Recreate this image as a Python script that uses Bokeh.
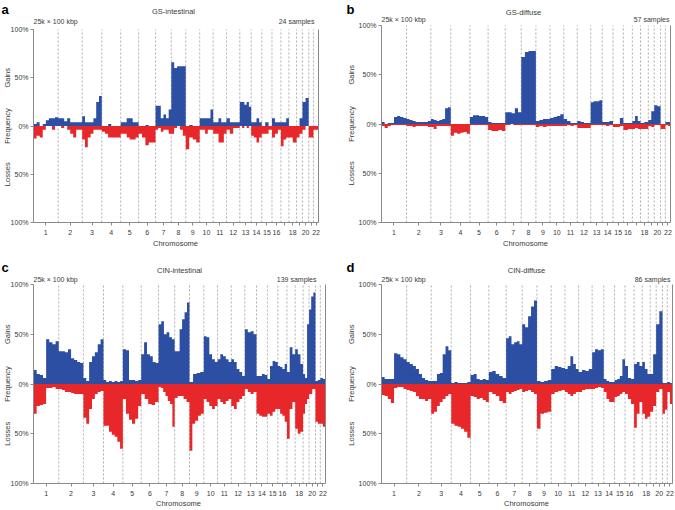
import numpy as np
from bokeh.plotting import figure
from bokeh.models import Range1d, FixedTicker, LinearAxis
from bokeh.layouts import column, row
from bokeh.core.properties import value
from bokeh.embed import file_html
from bokeh.resources import INLINE

# ---------------- data ----------------
chrom_len = [249, 243, 198, 191, 181, 171, 159, 146, 141, 136, 135, 134,
             115, 107, 103, 90, 81, 78, 59, 63, 48, 51]   # Mb
chrom_tick_labels = ["1", "2", "3", "4", "5", "6", "7", "8", "9", "10", "11",
                     "12", "13", "14", "15", "16", "", "18", "", "20", "", "22"]
y_ticks = [-100, -50, 0, 50, 100]
y_tick_labels = ["100%", "50%", "0%", "50%", "100%"]

titles = ["GS-intestinal", "GS-diffuse", "CIN-intestinal", "CIN-diffuse"]
samples = ["24 samples", "57 samples", "139 samples", "86 samples"]
letters = ["a", "b", "c", "d"]
resolution = "25k \u00d7 100 kbp"

# gains / losses (%) per chromosome, equal-width segments within each chromosome
a_gain = [[2, 4, 0, 2, 6, 8, 8, 9], [8, 8, 5, 8, 4, 4, 4, 4], [10, 4, 4, 4, 8, 25, 31],
          [0, 0, 2, 0, 0, 0], [4, 4, 8, 8, 4, 4], [0, 0, 1, 0, 0], [21, 21, 8, 12, 8, 17],
          [66, 60, 62, 62, 62], [0, 1, 0, 0], [8, 8, 8, 8, 17], [4, 4, 8, 4, 4], [8, 4, 4, 4],
          [25, 25, 22, 25, 20], [4, 4, 8, 4], [0, 4, 0], [8, 4, 4], [4, 4, 8], [0, 0],
          [0, 8], [25, 29], [0, 0], [0, 0]]
a_loss = [[13, 10, 12, 4, 0, 0, 4, 0], [0, 2, 0, 4, 8, 12, 4, 4], [14, 22, 12, 8, 4, 4, 4],
          [6, 8, 12, 12, 12, 12], [8, 8, 12, 14, 14, 12], [8, 12, 20, 17, 17], [4, 2, 6, 4, 4, 8],
          [8, 2, 0, 4, 10], [24, 12, 14, 17], [4, 4, 8, 4, 4], [8, 8, 17, 17, 8], [4, 8, 2, 2],
          [0, 2, 0, 2, 0], [10, 12, 17, 12], [8, 8, 4], [12, 8, 4], [21, 14, 12], [12, 17],
          [12, 8], [4, 0], [12, 12], [4, 4]]

b_gain = [[2, 0, 1, 1, 7, 8, 7, 6], [5, 4, 3, 2, 2, 2, 2, 3], [5, 4, 3, 4, 5, 16, 17],
          [0, 0, 0, 0, 0, 0], [7, 9, 9, 8, 8, 7], [2, 1, 1, 1, 1], [12, 12, 11, 16, 12],
          [68, 73, 74, 74], [3, 4, 5, 5], [6, 7, 8, 10], [5, 3, 1, 1], [3, 2, 1, 1],
          [22, 23, 23, 24], [2, 2, 3], [0, 0, 6], [1, 1], [3, 8, 3], [1, 2], [4, 13],
          [19, 18], [0, 0], [2, 2]]
b_loss = [[2, 4, 2, 1, 1, 1, 1, 1], [2, 2, 3, 2, 2, 2, 2, 3], [3, 5, 2, 2, 2, 2, 2],
          [12, 9, 10, 9, 8, 10], [1, 1, 1, 1, 1, 1], [6, 7, 7, 6, 7], [1, 1, 0, 1, 1, 1],
          [1, 1, 1, 1], [3, 2, 3, 2], [2, 2, 2, 2], [2, 1, 2, 1], [4, 4, 4, 4], [1, 1, 1, 1],
          [1, 2, 1], [3, 3, 2], [6, 5], [5, 4, 5], [5, 5], [2, 3], [1, 1], [5, 5], [1, 2]]

c_gain = [[14, 10, 9, 6, 45, 42, 40, 43], [33, 33, 32, 35, 26, 24, 22, 21],
          [6, 3, 22, 28, 32, 40, 45], [4, 2, 3, 2, 3, 2, 3], [35, 34, 4, 4, 3, 4],
          [30, 42, 30, 28, 22, 21], [60, 63, 50, 52, 47, 45], [33, 33, 55, 65, 72, 82],
          [2, 10, 11, 12], [48, 47, 30, 25, 22], [25, 30, 28, 25, 22], [25, 22, 15, 12, 8],
          [55, 52, 53, 50], [8, 8, 10, 9], [5, 18, 23, 22], [18, 17, 15, 20], [12, 37, 30],
          [35, 30, 20], [10, 6, 60], [75, 88, 92], [3, 4], [6, 5]]
c_loss = [[30, 22, 21, 20, 4, 4, 3, 5], [5, 6, 8, 8, 9, 10, 10, 10], [34, 40, 25, 15, 10, 8, 7],
          [42, 42, 48, 51, 53, 58, 65], [15, 30, 36, 40, 35, 22], [10, 15, 20, 21, 18],
          [3, 4, 8, 12, 17, 20, 43], [14, 12, 12, 15, 18], [67, 40, 37, 32, 30],
          [15, 18, 22, 25, 22], [15, 18, 20, 17, 15], [22, 25, 18, 15, 12], [5, 8, 10, 8],
          [30, 32, 33, 33], [30, 32, 28, 25], [25, 30, 32, 38], [55, 25, 18], [45, 50, 48],
          [30, 20, 15], [10, 5], [38, 40], [40, 43]]

d_gain = [[7, 5, 5, 5, 31, 30, 27, 25], [22, 20, 18, 15, 10, 6, 4, 3], [3, 3, 10, 11, 30, 38, 34],
          [1, 2, 1, 1, 1, 2], [9, 10, 5, 4, 5, 4], [12, 13, 10, 8, 6], [46, 48, 40, 42, 43, 40],
          [60, 57, 68, 78, 84], [3, 2, 3, 4], [15, 18, 17, 16], [15, 18, 28, 20, 15],
          [12, 14, 13, 15], [32, 35, 34, 35], [5, 3, 2, 2], [4, 5, 8, 25], [18, 6, 5],
          [20, 22, 18], [22, 15, 10], [10, 30], [60, 73], [1, 1], [2, 1]]
d_loss = [[11, 12, 15, 19, 4, 3, 3, 5], [6, 7, 8, 12, 15, 15, 17, 15], [30, 28, 22, 18, 15, 12, 10],
          [40, 42, 43, 45, 48, 54], [12, 13, 15, 14, 16, 18], [8, 10, 12, 17, 19],
          [8, 10, 8, 7, 6, 5], [8, 7, 6, 8, 10], [45, 30, 29, 28], [10, 8, 7, 6],
          [8, 10, 12, 10, 8], [8, 6, 5, 5], [5, 4, 3, 4], [8, 15, 18, 18], [13, 12, 10, 8],
          [10, 15, 20], [44, 30, 18], [30, 35, 33], [28, 22], [8, 5], [30, 26], [8, 20]]

# ---------------- styling ----------------
BLUE = "#2c4ea3"
RED = "#e8272b"
FONT = "Liberation Sans"
GREY = "#8a8a8a"
TXT = "#3a3a3a"

cum = np.concatenate([[0], np.cumsum(chrom_len)])
TOTAL = float(cum[-1])
mids = [int(round(cum[i] + chrom_len[i] / 2)) for i in range(len(chrom_len))]


def steps(vals_by_chrom, sign):
    xs, ys = [], []
    for i, vals in enumerate(vals_by_chrom):
        n = len(vals)
        L = chrom_len[i]
        for j, v in enumerate(vals):
            xs += [cum[i] + j * L / n, cum[i] + (j + 1) * L / n]
            ys += [sign * v, sign * v]
    return xs, ys


def panel(k, gain, loss, fig_box, frame, txt):
    X0, Y0, W, H = fig_box
    fl, ft, fw, fh = frame

    def dx(X):
        return (X - fl) / fw * TOTAL

    def dy(Y):
        return 100 - (Y - ft) / fh * 200

    p = figure(width=W, height=H, output_backend="svg", toolbar_location=None,
               title=None, x_axis_location=None, y_axis_location=None,
               x_range=Range1d(dx(X0), dx(X0 + W)), y_range=Range1d(dy(Y0 + H), dy(Y0)),
               min_border=0)
    p.min_border_left = 0
    p.min_border_right = 0
    p.min_border_top = 0
    p.min_border_bottom = 0
    p.outline_line_color = None
    p.background_fill_color = "white"
    p.border_fill_color = "white"
    for g in p.grid:
        g.visible = False

    # chromosome boundaries
    bnd = list(cum[1:-1])
    p.segment(x0=bnd, y0=[-100] * len(bnd), x1=bnd, y1=[100] * len(bnd),
              line_color=GREY, line_width=0.7, line_dash="2 2")

    gx, gy = steps(gain, 1)
    lx, ly = steps(loss, -1)
    p.varea(x=gx, y1=0, y2=gy, fill_color=BLUE)
    p.varea(x=lx, y1=0, y2=ly, fill_color=RED)

    # right edge
    p.segment(x0=[TOTAL], y0=[-100], x1=[TOTAL], y1=[100], line_color=GREY, line_width=1)

    yax = LinearAxis(fixed_location=0, bounds=(-100, 100), ticker=FixedTicker(ticks=y_ticks))
    yax.major_label_overrides = {t: lab for t, lab in zip(y_ticks, y_tick_labels)}
    xax = LinearAxis(fixed_location=-100, bounds=(0, TOTAL), ticker=FixedTicker(ticks=mids))
    xax.major_label_overrides = {m: lab for m, lab in zip(mids, chrom_tick_labels)}
    for ax in (xax, yax):
        ax.axis_line_color = GREY
        ax.major_tick_line_color = GREY
        ax.minor_tick_line_color = None
        ax.major_tick_out = 3
        ax.major_tick_in = 0
        ax.major_label_text_font = FONT
        ax.major_label_text_font_size = "7px"
        ax.major_label_text_color = TXT
    yax.major_label_standoff = 2
    xax.major_label_standoff = 4
    p.add_layout(yax, "left")
    p.add_layout(xax, "below")

    def lab(X, Y, text, size="7px", align="left", bold=False, angle=0.0, color=TXT):
        p.text(x=[dx(X)], y=[dy(Y)], text=[text], text_font=value(FONT),
               text_font_size=value(size), text_align=align, text_baseline="middle",
               text_color=color, angle=angle,
               text_font_style="bold" if bold else "normal")

    lab(txt["letter"][0], txt["letter"][1], letters[k], size="13px", bold=True, color="black")
    lab(txt["title"][0], txt["title"][1], titles[k], size="7.5px", align="center")
    lab(fl, txt["sub_y"], resolution, size="7px")
    lab(txt["right_x"], txt["sub_y"], samples[k], size="7px", align="right")
    lab(txt["chrom"][0], txt["chrom"][1], "Chromosome", size="7.5px", align="center")
    gxp = txt["gains_x"]
    for text, val in (("Gains", 50), ("Frequency", 0), ("Losses", -50)):
        Y = ft + (100 - val) / 200 * fh
        lab(gxp, Y, text, size="7.5px", align="center", angle=np.pi / 2)
    return p


pa = panel(0, a_gain, a_loss, (0, 0, 343, 255), (33, 29, 285, 193),
           dict(letter=(1, 8.5), title=(173, 11), sub_y=20.5, right_x=314,
                gains_x=7, chrom=(175, 242.5)))
pb = panel(1, b_gain, b_loss, (343, 0, 331, 255), (381, 25, 289, 197),
           dict(letter=(346, 8.5), title=(523, 11.7), sub_y=19, right_x=669,
                gains_x=351, chrom=(525, 242.5)))
pc = panel(2, c_gain, c_loss, (0, 255, 343, 254), (33, 284, 292, 199),
           dict(letter=(1, 266.5), title=(179, 270), sub_y=279, right_x=316,
                gains_x=7, chrom=(178, 503)))
pd = panel(3, d_gain, d_loss, (343, 255, 331, 254), (381, 284, 291, 199),
           dict(letter=(346, 266.5), title=(526, 270), sub_y=279, right_x=670,
                gains_x=351, chrom=(526, 503)))

layout = column(row(pa, pb, spacing=0), row(pc, pd, spacing=0), spacing=0)
open("out.html", "w").write(file_html(layout, INLINE))
